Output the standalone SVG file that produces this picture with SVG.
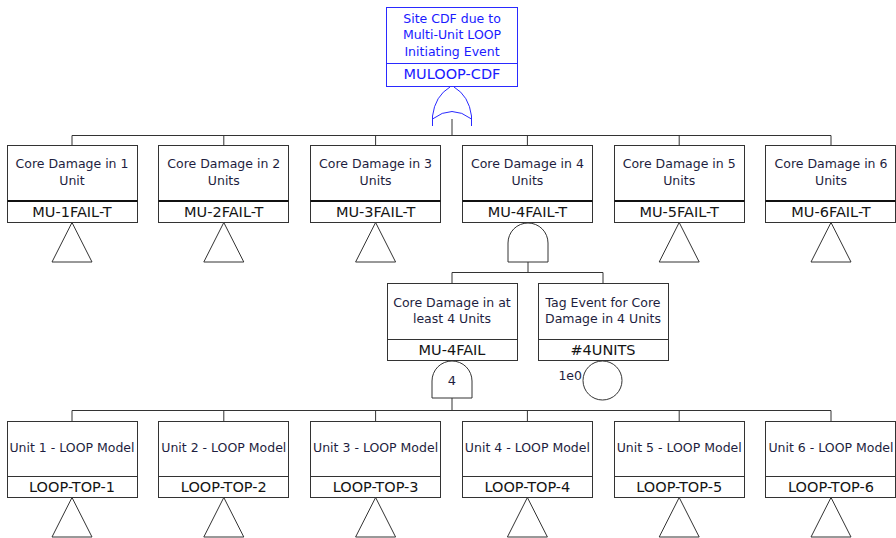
<svg xmlns="http://www.w3.org/2000/svg" width="896" height="538" viewBox="0 0 896 538">
  <style>
    .box { fill: #ffffff; stroke: #333333; stroke-width: 1; }
    .div { stroke: #333333; stroke-width: 1; }
    .divthick { stroke: #111111; stroke-width: 2.2; }
    .wire { fill: none; stroke: #333333; stroke-width: 1; }
    .gate { fill: #ffffff; stroke: #333333; stroke-width: 1; }
    .desc { font-family: "DejaVu Sans", Verdana, sans-serif; font-size: 12.5px; fill: #1e1e40; text-anchor: middle; }
    .lbl { font-family: "DejaVu Sans", Verdana, sans-serif; font-size: 14.5px; fill: #141414; text-anchor: middle; }
    .top .box { stroke: #2a2aff; }
    .top .div { stroke: #2a2aff; }
    .top .desc, .top .lbl { fill: #1a1aff; }
    .top .gate { stroke: #2a2aff; }
    .prob { font-family: "DejaVu Sans", Verdana, sans-serif; font-size: 12.5px; fill: #1e1e40; text-anchor: end; }
  </style>

  <!-- connectors: buses and drops -->
  <g id="connectors" class="wire">
    <path d="M452,111.5 V135.5"/>
    <path d="M72,145 V135.5 H831 V145"/>
    <path d="M223.8,135.5 V145 M375.6,135.5 V145 M527.4,135.5 V145 M679.2,135.5 V145"/>
    <path d="M528,262 V272.5"/>
    <path d="M452,283 V272.5 H603 V283"/>
    <path d="M452,398 V410.5"/>
    <path d="M72,421 V410.5 H831 V421"/>
    <path d="M223.8,410.5 V421 M375.6,410.5 V421 M527.4,410.5 V421 M679.2,410.5 V421"/>
  </g>

  <!-- top event with OR gate -->
  <g id="MULOOP-CDF" class="top">
    <rect class="box" x="386.5" y="7.5" width="131" height="79"/>
    <line class="div" x1="386.5" y1="63.5" x2="517.5" y2="63.5"/>
    <text class="desc" x="452" y="22.5">Site CDF due to</text>
    <text class="desc" x="452" y="39">Multi-Unit LOOP</text>
    <text class="desc" x="452" y="55.5">Initiating Event</text>
    <text class="lbl" x="452" y="79">MULOOP-CDF</text>
    <path class="gate" d="M432.5,126 L432.5,116 Q435,96 450,87 M454,87 Q469,96 471.5,116 L471.5,126 M432.5,119 Q452,104 471.5,119" fill="none"/>
  </g>

  <!-- first level: core damage in N units -->
  <g id="MU-1FAIL-T">
    <rect class="box" x="7.5" y="145.5" width="130" height="77"/>
    <line class="divthick" x1="7.5" y1="201" x2="137.5" y2="201"/>
    <text class="desc" x="72" y="168">Core Damage in 1</text>
    <text class="desc" x="72" y="184.5">Unit</text>
    <text class="lbl" x="72" y="217">MU-1FAIL-T</text>
    <polygon class="gate" points="72,222.5 52,262 92,262"/>
  </g>
  <g id="MU-2FAIL-T">
    <rect class="box" x="158.5" y="145.5" width="130" height="77"/>
    <line class="divthick" x1="158.5" y1="201" x2="288.5" y2="201"/>
    <text class="desc" x="223.8" y="168">Core Damage in 2</text>
    <text class="desc" x="223.8" y="184.5">Units</text>
    <text class="lbl" x="223.8" y="217">MU-2FAIL-T</text>
    <polygon class="gate" points="223.8,222.5 203.8,262 243.8,262"/>
  </g>
  <g id="MU-3FAIL-T">
    <rect class="box" x="310.5" y="145.5" width="130" height="77"/>
    <line class="divthick" x1="310.5" y1="201" x2="440.5" y2="201"/>
    <text class="desc" x="375.6" y="168">Core Damage in 3</text>
    <text class="desc" x="375.6" y="184.5">Units</text>
    <text class="lbl" x="375.6" y="217">MU-3FAIL-T</text>
    <polygon class="gate" points="375.6,222.5 355.6,262 395.6,262"/>
  </g>
  <g id="MU-4FAIL-T">
    <rect class="box" x="462.5" y="145.5" width="130" height="77"/>
    <line class="divthick" x1="462.5" y1="201" x2="592.5" y2="201"/>
    <text class="desc" x="527.4" y="168">Core Damage in 4</text>
    <text class="desc" x="527.4" y="184.5">Units</text>
    <text class="lbl" x="527.4" y="217">MU-4FAIL-T</text>
    <path class="gate" d="M508,262 L508,243 A20,20 0 0 1 548,243 L548,262 Z"/>
  </g>
  <g id="MU-5FAIL-T">
    <rect class="box" x="614.5" y="145.5" width="130" height="77"/>
    <line class="divthick" x1="614.5" y1="201" x2="744.5" y2="201"/>
    <text class="desc" x="679.2" y="168">Core Damage in 5</text>
    <text class="desc" x="679.2" y="184.5">Units</text>
    <text class="lbl" x="679.2" y="217">MU-5FAIL-T</text>
    <polygon class="gate" points="679.2,222.5 659.2,262 699.2,262"/>
  </g>
  <g id="MU-6FAIL-T">
    <rect class="box" x="765.5" y="145.5" width="130" height="77"/>
    <line class="divthick" x1="765.5" y1="201" x2="895.5" y2="201"/>
    <text class="desc" x="831" y="168">Core Damage in 6</text>
    <text class="desc" x="831" y="184.5">Units</text>
    <text class="lbl" x="831" y="217">MU-6FAIL-T</text>
    <polygon class="gate" points="831,222.5 811,262 851,262"/>
  </g>

  <!-- second level under the 4-unit AND gate -->
  <g id="MU-4FAIL">
    <rect class="box" x="387.5" y="283.5" width="130" height="77"/>
    <line class="div" x1="387.5" y1="339.5" x2="517.5" y2="339.5"/>
    <text class="desc" x="452" y="306.5">Core Damage in at</text>
    <text class="desc" x="452" y="323">least 4 Units</text>
    <text class="lbl" x="452" y="355">MU-4FAIL</text>
    <path class="gate" d="M432,398 L432,381 A20,20 0 0 1 472,381 L472,398 Z"/>
    <text class="desc" x="452" y="384.5" style="font-size:13px">4</text>
  </g>
  <g id="N4UNITS">
    <rect class="box" x="538.5" y="283.5" width="130" height="77"/>
    <line class="div" x1="538.5" y1="339.5" x2="668.5" y2="339.5"/>
    <text class="desc" x="603" y="306.5">Tag Event for Core</text>
    <text class="desc" x="603" y="323">Damage in 4 Units</text>
    <text class="lbl" x="603" y="355">#4UNITS</text>
    <circle class="gate" cx="602.5" cy="380.5" r="19.5"/>
    <text class="prob" x="582" y="379.5">1e0</text>
  </g>

  <!-- third level: per-unit LOOP models -->
  <g id="LOOP-TOP-1">
    <rect class="box" x="7.5" y="421.5" width="130" height="76"/>
    <line class="div" x1="7.5" y1="476.5" x2="137.5" y2="476.5"/>
    <text class="desc" x="72" y="451.5">Unit 1 - LOOP Model</text>
    <text class="lbl" x="72" y="492">LOOP-TOP-1</text>
    <polygon class="gate" points="72,497.5 52,537 92,537"/>
  </g>
  <g id="LOOP-TOP-2">
    <rect class="box" x="158.5" y="421.5" width="130" height="76"/>
    <line class="div" x1="158.5" y1="476.5" x2="288.5" y2="476.5"/>
    <text class="desc" x="223.8" y="451.5">Unit 2 - LOOP Model</text>
    <text class="lbl" x="223.8" y="492">LOOP-TOP-2</text>
    <polygon class="gate" points="223.8,497.5 203.8,537 243.8,537"/>
  </g>
  <g id="LOOP-TOP-3">
    <rect class="box" x="310.5" y="421.5" width="130" height="76"/>
    <line class="div" x1="310.5" y1="476.5" x2="440.5" y2="476.5"/>
    <text class="desc" x="375.6" y="451.5">Unit 3 - LOOP Model</text>
    <text class="lbl" x="375.6" y="492">LOOP-TOP-3</text>
    <polygon class="gate" points="375.6,497.5 355.6,537 395.6,537"/>
  </g>
  <g id="LOOP-TOP-4">
    <rect class="box" x="462.5" y="421.5" width="130" height="76"/>
    <line class="div" x1="462.5" y1="476.5" x2="592.5" y2="476.5"/>
    <text class="desc" x="527.4" y="451.5">Unit 4 - LOOP Model</text>
    <text class="lbl" x="527.4" y="492">LOOP-TOP-4</text>
    <polygon class="gate" points="527.4,497.5 507.4,537 547.4,537"/>
  </g>
  <g id="LOOP-TOP-5">
    <rect class="box" x="614.5" y="421.5" width="130" height="76"/>
    <line class="div" x1="614.5" y1="476.5" x2="744.5" y2="476.5"/>
    <text class="desc" x="679.2" y="451.5">Unit 5 - LOOP Model</text>
    <text class="lbl" x="679.2" y="492">LOOP-TOP-5</text>
    <polygon class="gate" points="679.2,497.5 659.2,537 699.2,537"/>
  </g>
  <g id="LOOP-TOP-6">
    <rect class="box" x="765.5" y="421.5" width="130" height="76"/>
    <line class="div" x1="765.5" y1="476.5" x2="895.5" y2="476.5"/>
    <text class="desc" x="831" y="451.5">Unit 6 - LOOP Model</text>
    <text class="lbl" x="831" y="492">LOOP-TOP-6</text>
    <polygon class="gate" points="831,497.5 811,537 851,537"/>
  </g>
</svg>
